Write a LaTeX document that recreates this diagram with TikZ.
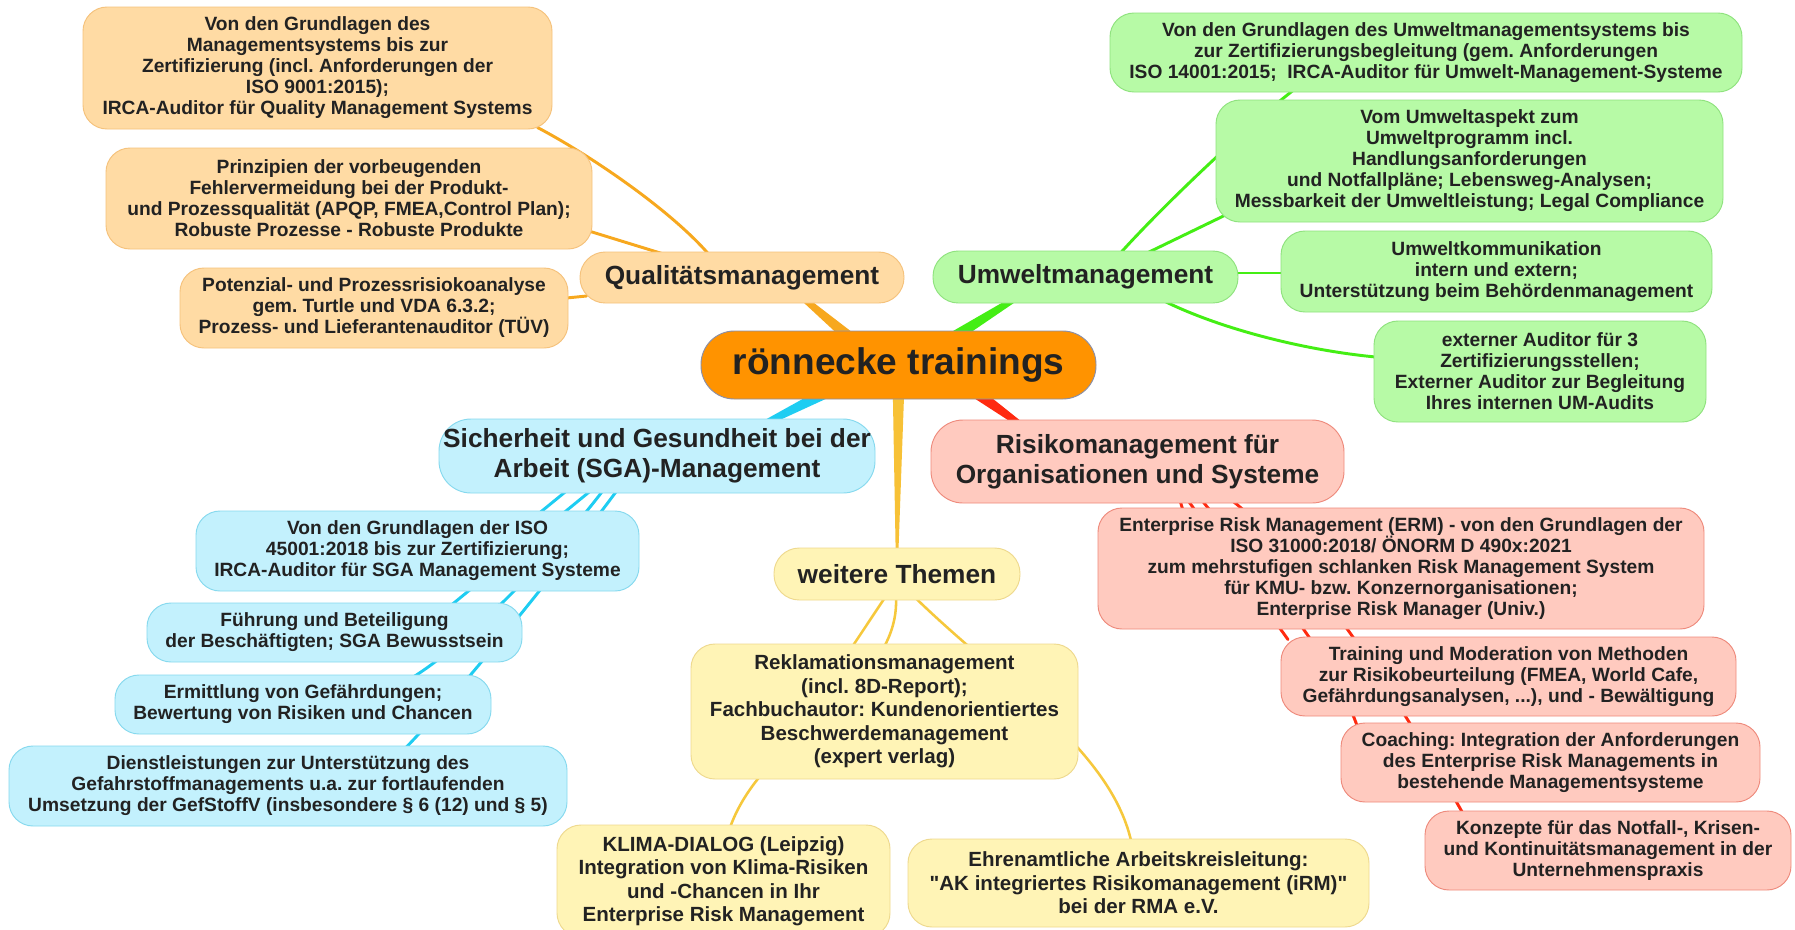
\documentclass[tikz,border=0pt]{standalone}
\usepackage{fontspec}
\setmainfont{Liberation Sans}
\newfontfamily\nolig{Liberation Sans}
\usetikzlibrary{calc}
\definecolor{txt}{HTML}{222222}
\definecolor{qfill}{HTML}{FFDBA4}\definecolor{qdraw}{HTML}{F5C27C}\definecolor{qline}{HTML}{F7A81E}
\definecolor{cfill}{HTML}{FF9300}\definecolor{cdraw}{HTML}{8A8FA8}
\definecolor{gfill}{HTML}{B7FAA6}\definecolor{gdraw}{HTML}{8FE27E}\definecolor{gline}{HTML}{44EE14}
\definecolor{bfill}{HTML}{C3F1FD}\definecolor{bdraw}{HTML}{86D9EE}\definecolor{bline}{HTML}{1ECDF2}
\definecolor{rfill}{HTML}{FFCABF}\definecolor{rdraw}{HTML}{EE8A7C}\definecolor{rline}{HTML}{FF2A10}
\definecolor{yfill}{HTML}{FFF4B6}\definecolor{ydraw}{HTML}{EED98E}\definecolor{yline}{HTML}{F6C83C}
\pgfdeclarelayer{bg}
\pgfsetlayers{bg,main}
\frenchspacing
\newcommand\taperline[5]{\fill[#1] ($(#2)!#4!90:(#3)$) -- ($(#3)!#5!-90:(#2)$) -- ($(#3)!#5!90:(#2)$) -- ($(#2)!#4!-90:(#3)$) -- cycle;}
% named box: name, style, x1, y1, x2, y2, text
\newcommand\bx[7]{\node[#2, minimum width={(#5-#3)*0.75pt}, minimum height={(#6-#4)*0.75pt}] (#1) at ({(#3+#5)/2},{(#4+#6)/2}) {#7};}
\begin{document}
\begin{tikzpicture}[x=0.75pt,y=-0.75pt,
  box/.style={draw, line width=0.7pt, inner sep=0pt, align=center, text=txt,
    font=\nolig\bfseries\frenchspacing\fontsize{14.4}{15.75}\selectfont, rounded corners=18pt},
  bigbox/.style={box, font=\nolig\bfseries\frenchspacing\fontsize{15.4}{17.6}\selectfont},
  mainbox/.style={box, font=\nolig\bfseries\frenchspacing\fontsize{19.7}{22.5}\selectfont, rounded corners=19pt},
  qbox/.style={fill=qfill, draw=qdraw},
  gbox/.style={fill=gfill, draw=gdraw},
  bbox/.style={fill=bfill, draw=bdraw},
  rbox/.style={fill=rfill, draw=rdraw},
  ybox/.style={fill=yfill, draw=ydraw},
  sub/.style={line width=2.2pt, line cap=round},
]
\useasboundingbox (0,0) rectangle (1795,929);
\begin{pgfonlayer}{bg}
\fill[white] (0,0) rectangle (1795,929);
\end{pgfonlayer}

% central node
\bx{cn}{box, fill=cfill, draw=cdraw, rounded corners=25pt, font=\nolig\bfseries\fontsize{27.8}{32}\selectfont}{701}{331}{1096}{399}{rönnecke trainings}

% Qualitaet
\bx{qual}{mainbox, qbox}{580}{252}{904}{303}{Qualitätsmanagement}
\bx{q1}{box, qbox}{83}{7}{552}{129}{Von den Grundlagen des\\Managementsystems bis zur\\Zertifizierung (incl. Anforderungen der\\ISO 9001:2015);\\IRCA-Auditor für Quality Management Systems}
\bx{q2}{box, qbox}{106}{148}{592}{249}{Prinzipien der vorbeugenden\\Fehlervermeidung bei der Produkt-\\und Prozessqualität (APQP, FMEA,Control Plan);\\Robuste Prozesse - Robuste Produkte}
\bx{q3}{box, qbox}{180}{268}{568}{348}{Potenzial- und Prozessrisiokoanalyse\\gem. Turtle und VDA 6.3.2;\\Prozess- und Lieferantenauditor (TÜV)}

% Umwelt
\bx{umw}{mainbox, gbox}{933}{251}{1238}{303}{Umweltmanagement}
\bx{u1}{box, gbox}{1110}{13}{1742}{92}{Von den Grundlagen des Umweltmanagementsystems bis\\zur Zertifizierungsbegleitung (gem. Anforderungen\\ISO 14001:2015;\ \ IRCA-Auditor für Umwelt-Management-Systeme}
\bx{u2}{box, gbox}{1216}{100}{1723}{222}{Vom Umweltaspekt zum\\Umweltprogramm incl.\\Handlungsanforderungen\\und Notfallpläne; Lebensweg-Analysen;\\Messbarkeit der Umweltleistung; Legal Compliance}
\bx{u3}{box, gbox}{1281}{231}{1712}{312}{Umweltkommunikation\\intern und extern;\\Unterstützung beim Behördenmanagement}
\bx{u4}{box, gbox}{1374}{321}{1706}{422}{externer Auditor für 3\\Zertifizierungsstellen;\\Externer Auditor zur Begleitung\\Ihres internen UM-Audits}

% Risiko
\bx{risk}{mainbox, rbox, rounded corners=24pt}{931}{420}{1344}{503}{Risikomanagement für\\Organisationen und Systeme}
\bx{r1}{box, rbox}{1098}{508}{1704}{629}{Enterprise Risk Management (ERM) - von den Grundlagen der\\ISO 31000:2018/ ÖNORM D 490x:2021\\zum mehrstufigen schlanken Risk Management System\\für KMU- bzw. Konzernorganisationen;\\Enterprise Risk Manager (Univ.)}
\bx{r2}{box, rbox}{1281}{637}{1736}{716}{Training und Moderation von Methoden\\zur Risikobeurteilung (FMEA, World Cafe,\\Gefährdungsanalysen, ...), und - Bewältigung}
\bx{r3}{box, rbox}{1341}{723}{1760}{802}{Coaching: Integration der Anforderungen\\des Enterprise Risk Managements in\\bestehende Managementsysteme}
\bx{r4}{box, rbox}{1425}{811}{1791}{890}{Konzepte für das Notfall-, Krisen-\\und Kontinuitätsmanagement in der\\Unternehmenspraxis}

% SGA
\bx{sga}{mainbox, bbox, rounded corners=24pt}{439}{419}{875}{493}{Sicherheit und Gesundheit bei der\\Arbeit (SGA)-Management}
\bx{s1}{box, bbox}{196}{511}{639}{591}{Von den Grundlagen der ISO\\45001:2018 bis zur Zertifizierung;\\IRCA-Auditor für SGA Management Systeme}
\bx{s2}{box, bbox}{147}{603}{522}{662}{Führung und Beteiligung\\der Beschäftigten; SGA Bewusstsein}
\bx{s3}{box, bbox}{115}{675}{491}{734}{Ermittlung von Gefährdungen;\\Bewertung von Risiken und Chancen}
\bx{s4}{box, bbox}{9}{746}{567}{826}{Dienstleistungen zur Unterstützung des\\Gefahrstoffmanagements u.a. zur fortlaufenden\\Umsetzung der GefStoffV (insbesondere § 6 (12) und § 5)}

% weitere
\bx{weit}{mainbox, ybox}{774}{548}{1020}{600}{weitere Themen}
\bx{w1}{bigbox, ybox}{691}{644}{1078}{779}{Reklamationsmanagement\\(incl. 8D-Report);\\Fachbuchautor: Kundenorientiertes\\Beschwerdemanagement\\(expert verlag)}
\bx{w2}{bigbox, ybox}{557}{825}{890}{937}{KLIMA-DIALOG (Leipzig)\\Integration von Klima-Risiken\\und -Chancen in Ihr\\Enterprise Risk Management}
\bx{w3}{bigbox, ybox}{908}{839}{1369}{927}{Ehrenamtliche Arbeitskreisleitung:\\"AK integriertes Risikomanagement (iRM)"\\bei der RMA e.V.}

\begin{pgfonlayer}{bg}
% main tapered branches
\coordinate (qa) at ($(cn.center)+(-43.5,-23)$);
\coordinate (qb) at ($(qual.center)+(55,15.5)$);
\coordinate (ga) at ($(cn.center)+(47.5,-23)$);
\coordinate (gb) at ($(umw.center)+(-61.5,16)$);
\coordinate (ba) at ($(cn.center)+(-65.5,24)$);
\coordinate (bb) at ($(sga.center)+(95,-26)$);
\coordinate (ra) at ($(cn.center)+(72.5,24)$);
\coordinate (rb) at ($(risk.center)+(-109.5,-31.5)$);
\coordinate (ya) at ($(cn.center)+(0,25)$);
\coordinate (yb) at ($(weit.center)+(0,-18)$);
\taperline{qline}{qa}{qb}{4.5pt}{1.9pt}
\taperline{gline}{ga}{gb}{4.5pt}{1.9pt}
\taperline{bline}{ba}{bb}{4.5pt}{1.9pt}
\taperline{rline}{ra}{rb}{4.5pt}{1.9pt}
\taperline{yline!90!orange}{ya}{yb}{4.3pt}{0.95pt}

% quality
\draw[sub, qline] ($(qual.north)+(-33,3)$) .. controls +(-39,-45) and +(53,28) .. ($(q1.south east)+(-15,-2)$);
\draw[sub, qline] ($(qual.north)+(-80,2)$) -- ($(q2.east)+(-2,33)$);
\draw[sub, qline] ($(qual.west)+(7,18.5)$) -- ($(q3.east)+(-2,-10)$);

% environment
\draw[sub, gline] ($(umw.north)+(34.5,3)$) .. controls +(45,-50) and +(-45,35) .. ($(u1.south)+(-133,-2)$);
\draw[sub, gline] ($(umw.north)+(62.5,2)$) -- ($(u2.south west)+(9,-7)$);
\draw[sub, gline] ($(umw.east)+(-2,-4)$) -- ($(u3.west)+(2,1.5)$);
\draw[sub, gline] ($(umw.south)+(79.5,-2)$) .. controls +(55,27) and +(-73,-7) .. ($(u4.west)+(2,-14.5)$);

% SGA
\draw[sub, bline] ($(sga.south)+(-90,-3)$) -- ($(s1.north)+(122.5,2)$);
\draw[sub, bline] ($(sga.south)+(-66,-3)$) -- ($(s2.north)+(117.5,2)$);
\draw[sub, bline] ($(sga.south)+(-54,-3)$) .. controls +(-43,57) and +(56,-35) .. ($(s3.north)+(111,2)$);
\draw[sub, bline] ($(sga.south)+(-40,-3)$) .. controls +(-57,77) and +(54,-56) .. ($(s4.north)+(118,2)$);

% risk
\draw[sub, rline] ($(risk.south)+(42.5,-3)$) -- ($(r1.north)+(-218,3)$);
\draw[sub, rline] ($(risk.south)+(50.5,-3)$) -- ($(r2.north)+(-220.5,3)$);
\draw[sub, rline] ($(risk.south)+(64.5,-3)$) .. controls +(48,60) and +(-27,-76) .. ($(r3.north)+(-193.5,3)$);
\draw[sub, rline] ($(risk.south)+(94.5,-3)$) .. controls +(88,70) and +(-53,-94) .. ($(r4.north)+(-145,3)$);

% weitere
\draw[sub, yline, line width=1.9pt] ($(weit.south)+(-12,-3)$) -- ($(w1.north)+(-31.5,2)$);
\draw[sub, yline, line width=1.9pt] ($(weit.south)+(-1,-3)$) .. controls +(4,93) and +(35,-98) .. ($(w2.north)+(6.5,3)$);
\draw[sub, yline, line width=1.9pt] ($(weit.south)+(18,-3)$) .. controls +(85,83) and +(-21,-91) .. ($(w3.north)+(-7.5,2)$);
\end{pgfonlayer}
\end{tikzpicture}
\end{document}
